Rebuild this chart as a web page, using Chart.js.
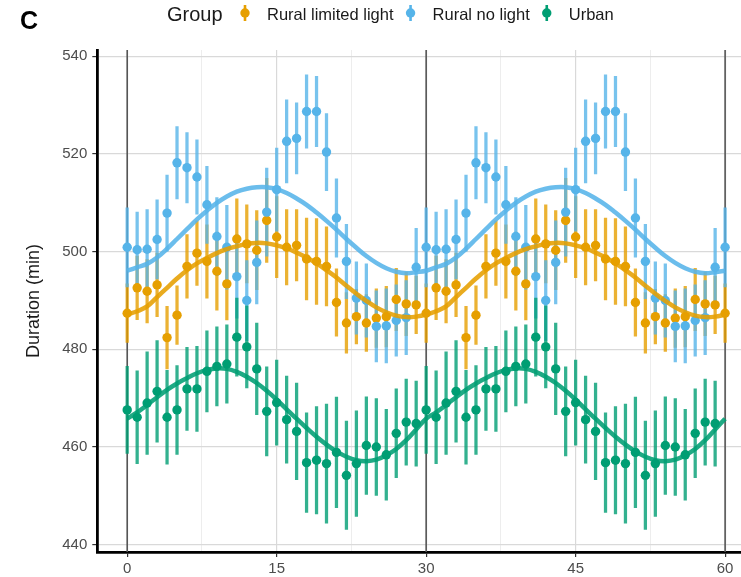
<!DOCTYPE html>
<html>
<head>
<meta charset="utf-8">
<script src="https://cdn.jsdelivr.net/npm/chart.js@4.4.1/dist/chart.umd.min.js"></script>
<style>
  html, body { margin: 0; padding: 0; background: #fff; overflow: hidden; }
  #wrap { width: 760px; height: 577px; }
</style>
</head>
<body>
<div id="wrap"><canvas id="chart" width="760" height="577"></canvas></div>
<script>
const GROUPS = ['Rural limited light', 'Rural no light', 'Urban']
const COLORS = ['#E69F00', '#56B4E9', '#009E73']
const FONT = '"Liberation Sans", Arial, sans-serif'

// the figure shows one 30-day cycle plotted twice (days 0-60)
const CYCLE = 30
const days = [0, 1, 2, 3, 4, 5, 6, 7, 8, 9, 10, 11, 12, 13, 14, 15, 16, 17, 18, 19,
  20, 21, 22, 23, 24, 25, 26, 27, 28, 29, 30, 31, 32, 33, 34, 35, 36, 37, 38, 39,
  40, 41, 42, 43, 44, 45, 46, 47, 48, 49, 50, 51, 52, 53, 54, 55, 56, 57, 58, 59, 60]
const lastPointDay = [60, 60, 59]

// Rural limited light
const limitedMean = [487.4, 492.6, 491.9, 493.2, 482.4, 487.0, 497.0, 499.7, 498.0, 496.0,
  493.4, 502.6, 501.6, 500.3, 506.4, 503.0, 500.9, 501.3, 498.5, 498.0,
  497.0, 489.6, 485.4, 486.7, 485.4, 486.4, 486.7, 490.2, 489.3, 489.1]
const limitedErr = [6.0, 6.5, 6.5, 6.5, 6.4, 6.0, 6.5, 6.6, 7.5, 8.0,
  7.4, 8.2, 8.0, 8.1, 8.6, 8.3, 7.7, 7.3, 8.4, 8.8,
  8.1, 6.9, 6.2, 5.6, 5.8, 6.0, 6.2, 6.4, 6.5, 5.9]
const limitedFit = [487.1, 487.8, 488.8, 490.7, 492.6, 494.5, 496.2, 497.6, 498.7, 499.7,
  500.5, 501.1, 501.6, 501.8, 501.7, 501.3, 500.7, 499.8, 498.8, 497.6,
  496.2, 494.7, 493.0, 491.4, 489.9, 488.6, 487.6, 486.9, 486.6, 486.7]

// Rural no light
const noLightMean = [500.9, 500.4, 500.5, 502.5, 507.9, 518.2, 517.2, 515.3, 509.6, 503.1,
  500.9, 494.9, 490.0, 497.8, 508.1, 512.7, 522.6, 523.2, 528.7, 528.7,
  520.4, 506.9, 498.0, 490.5, 490.0, 484.7, 484.8, 485.9, 486.5, 496.8]
const noLightErr = [8.1, 7.7, 8.1, 8.1, 7.8, 7.4, 7.2, 7.6, 7.9, 8.0,
  8.6, 8.5, 8.2, 8.5, 9.0, 8.5, 8.5, 7.3, 7.5, 7.2,
  7.9, 8.0, 7.6, 7.4, 7.5, 7.3, 7.6, 7.3, 7.6, 8.0]
const noLightFit = [496.1, 496.8, 497.5, 498.8, 500.6, 502.6, 504.6, 506.6, 508.4, 510.0,
  511.3, 512.3, 512.9, 513.2, 513.2, 512.8, 512.0, 510.9, 509.6, 508.0,
  506.3, 504.5, 502.6, 500.8, 499.1, 497.7, 496.6, 495.9, 495.6, 495.8]

// Urban
const urbanMean = [467.6, 466.1, 469.0, 471.4, 466.1, 467.6, 471.9, 471.9, 475.5, 476.5,
  477.0, 482.5, 480.5, 476.0, 467.3, 469.1, 465.6, 463.2, 456.8, 457.3,
  456.6, 458.9, 454.2, 456.6, 460.3, 460.0, 458.4, 462.8, 465.1, 464.8]
const urbanErr = [8.9, 9.5, 10.5, 10.4, 9.6, 9.1, 8.5, 8.7, 8.3, 8.1,
  8.0, 8.0, 8.4, 9.4, 9.1, 8.7, 8.9, 9.9, 10.2, 11.0,
  12.2, 11.3, 11.1, 10.8, 10.0, 9.9, 9.3, 9.1, 8.8, 8.7]
const urbanFit = [465.8, 467.1, 468.6, 470.2, 471.7, 473.0, 474.1, 475.1, 475.8, 476.1,
  476.0, 475.4, 474.4, 473.1, 471.5, 469.7, 467.7, 465.8, 463.9, 462.1,
  460.5, 459.1, 458.0, 457.3, 457.1, 457.4, 458.3, 459.6, 461.4, 463.6]

const means = [limitedMean, noLightMean, urbanMean]
const errs = [limitedErr, noLightErr, urbanErr]
const fits = [limitedFit, noLightFit, urbanFit]

const xTicks = [0, 7.5, 15, 22.5, 30, 37.5, 45, 52.5, 60]
const yTicks = [440, 460, 480, 500, 520, 540]
const cycleLines = [0, 30, 60]

function alpha(hex, a) {
  const n = parseInt(hex.slice(1), 16)
  return `rgba(${n >> 16}, ${(n >> 8) & 255}, ${n & 255}, ${a})`
}

const isMajor = (c) => c.tick && c.tick.value % 15 === 0

// drawing rank: urban on top, then no light, then limited light
const rank = [2, 1, 0]
const datasets = []
GROUPS.forEach((name, g) => {
  const pd = days.filter((d) => d <= lastPointDay[g])
  datasets.push({
    type: 'bar',
    label: name + ' error',
    data: pd.map((d) => {
      const m = means[g][d % CYCLE], e = errs[g][d % CYCLE]
      return { x: d, y: [m - e, m + e] }
    }),
    backgroundColor: alpha(COLORS[g], 0.8),
    borderWidth: 0,
    barThickness: 2.6,
    grouped: false,
    order: 30 + rank[g],
  })
  datasets.push({
    type: 'scatter',
    label: name,
    data: pd.map((d) => ({ x: d, y: means[g][d % CYCLE] })),
    backgroundColor: COLORS[g],
    borderWidth: 0,
    pointRadius: 4.7,
    order: 20 + rank[g],
  })
  datasets.push({
    type: 'line',
    label: name + ' fit',
    data: days.map((d) => ({ x: d, y: fits[g][d % CYCLE] })),
    borderColor: alpha(COLORS[g], 0.88),
    borderWidth: 4.5,
    pointRadius: 0,
    tension: 0.4,
    fill: false,
    order: 10 + rank[g],
  })
})

const cycleLinePlugin = {
  id: 'cycleLines',
  beforeDatasetsDraw(chart) {
    const { ctx, chartArea, scales } = chart
    ctx.save()
    ctx.strokeStyle = '#555555'
    ctx.lineWidth = 1.6
    cycleLines.forEach((d) => {
      const px = scales.x.getPixelForValue(d)
      ctx.beginPath()
      ctx.moveTo(px, chartArea.top)
      ctx.lineTo(px, chartArea.bottom)
      ctx.stroke()
    })
    ctx.restore()
  },
}

const legendPlugin = {
  id: 'groupLegend',
  afterDraw(chart) {
    const ctx = chart.ctx
    ctx.save()
    ctx.textBaseline = 'alphabetic'
    ctx.textAlign = 'left'
    ctx.fillStyle = '#000'
    ctx.font = 'bold 25px ' + FONT
    ctx.fillText('C', 20, 29)
    ctx.fillStyle = '#1a1a1a'
    ctx.font = '20px ' + FONT
    ctx.fillText('Group', 167, 21)
    ctx.font = '16.5px ' + FONT
    let x = 245
    GROUPS.forEach((name, g) => {
      ctx.strokeStyle = COLORS[g]
      ctx.lineWidth = 2.6
      ctx.beginPath()
      ctx.moveTo(x, 5)
      ctx.lineTo(x, 21)
      ctx.stroke()
      ctx.fillStyle = COLORS[g]
      ctx.beginPath()
      ctx.arc(x, 13, 4.7, 0, Math.PI * 2)
      ctx.fill()
      ctx.fillStyle = '#1a1a1a'
      ctx.fillText(name, x + 22, 19.5)
      x += 22 + ctx.measureText(name).width + 17
    })
    ctx.restore()
  },
}

new Chart(document.getElementById('chart'), {
  type: 'line',
  data: { datasets },
  options: {
    responsive: false,
    animation: false,
    events: [],
    layout: { padding: { top: 50, right: 5, bottom: 0, left: 0 } },
    plugins: {
      legend: { display: false },
      tooltip: { enabled: false },
    },
    scales: {
      x: {
        type: 'linear',
        min: -3,
        max: 63,
        offset: false,
        afterBuildTicks: (s) => { s.ticks = xTicks.map((v) => ({ value: v })) },
        afterFit: (s) => { s.height = 25 },
        ticks: {
          color: '#4d4d4d',
          font: { family: FONT, size: 15 },
          padding: 3,
          maxRotation: 0,
          autoSkip: false,
          callback: (v) => (v % 15 === 0 ? String(v) : ''),
        },
        grid: {
          offset: false,
          color: (c) => (isMajor(c) ? '#d9d9d9' : '#ebebeb'),
          lineWidth: (c) => (isMajor(c) ? 1.2 : 0.9),
          tickLength: 5,
          tickColor: (c) => (isMajor(c) ? '#333333' : 'rgba(0,0,0,0)'),
        },
        border: { color: '#000', width: 2.8 },
      },
      y: {
        min: 438.5,
        max: 541.3,
        afterBuildTicks: (s) => { s.ticks = yTicks.map((v) => ({ value: v })) },
        afterFit: (s) => { s.width = 97.3 },
        ticks: {
          color: '#4d4d4d',
          font: { family: FONT, size: 15 },
          padding: 5,
        },
        grid: {
          offset: false,
          color: '#d9d9d9',
          lineWidth: 1.2,
          tickLength: 5,
          tickColor: '#333333',
        },
        border: { color: '#000', width: 2.8 },
        title: {
          display: true,
          text: 'Duration (min)',
          color: '#1a1a1a',
          font: { family: FONT, size: 18 },
          padding: { top: 23, bottom: 0 },
        },
      },
    },
  },
  plugins: [cycleLinePlugin, legendPlugin],
})
</script>
</body>
</html>
